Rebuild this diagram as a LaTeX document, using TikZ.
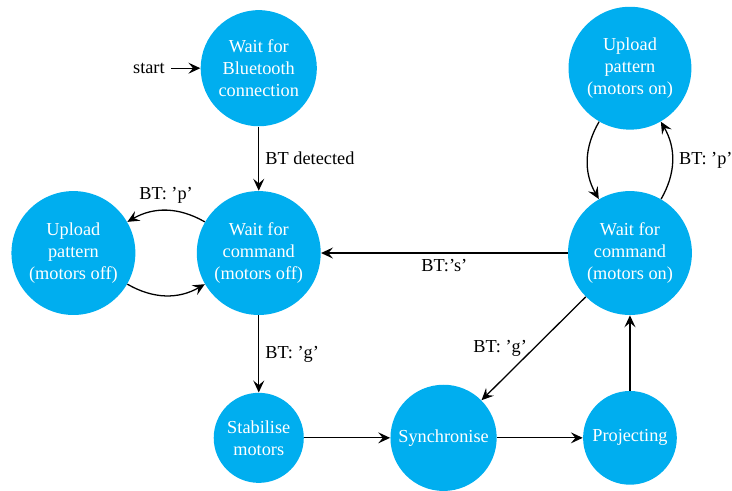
\documentclass[tikz,border=0pt]{standalone}
\usepackage{fontspec}
\setmainfont{Liberation Serif}
\usepackage{xcolor}
\usepackage{tikz}
\usetikzlibrary{arrows.meta}

\definecolor{stateblue}{HTML}{00AEEF}

\begin{document}
\begin{tikzpicture}[
    state/.style = {circle, fill = stateblue, text = white, align = center, inner sep = 0pt},
    trans/.style = {-{Stealth[length = 6.5pt, width = 6pt, inset = 2.5pt]}, line width = 0.7pt}
]
    \useasboundingbox (0, 0) rectangle (14.06, 9.43);
    % states
    \node [state, minimum size = 2.23cm] (btconn) at (4.97, 8.12) {Wait for\\Bluetooth\\connection};
    \node [state, minimum size = 2.38cm] (waitoff) at (4.97, 4.57) {Wait for\\command\\(motors off)};
    \node [state, minimum size = 2.38cm] (uploadoff) at (1.41, 4.57) {Upload\\pattern\\(motors off)};
    \node [state, minimum size = 2.36cm] (uploadon) at (12.10, 8.12) {Upload\\pattern\\(motors on)};
    \node [state, minimum size = 2.38cm] (waiton) at (12.10, 4.57) {Wait for\\command\\(motors on)};
    \node [state, minimum size = 1.73cm] (stabilise) at (4.97, 1.02) {Stabilise\\motors};
    \node [state, minimum size = 2.04cm] (sync) at (8.52, 1.02) {Synchronise};
    \node [state, minimum size = 1.80cm] (project) at (12.10, 1.02) {Projecting};
    \node (start) at (2.86, 8.12) {start};
    % transitions
    \draw [trans] (start) -- (btconn);
    \draw [trans] (btconn) -- node [right] {BT detected} (waitoff);
    \draw [trans] (waitoff) to [bend right = 30] node [above] {BT: 'p'} (uploadoff);
    \draw [trans] (uploadoff) to [bend right = 30] (waitoff);
    \draw [trans] (waitoff) -- node [right] {BT: 'g'} (stabilise);
    \draw [trans] (stabilise) -- (sync);
    \draw [trans] (sync) -- (project);
    \draw [trans] (project) -- (waiton);
    \draw [trans] (waiton) -- node [below] {BT:'s'} (waitoff);
    \draw [trans] (waiton) -- node [left] {BT: 'g'} (sync);
    \draw [trans] (waiton) to [bend right = 30] node [right] {BT: 'p'} (uploadon);
    \draw [trans] (uploadon) to [bend right = 30] (waiton);
\end{tikzpicture}
\end{document}
